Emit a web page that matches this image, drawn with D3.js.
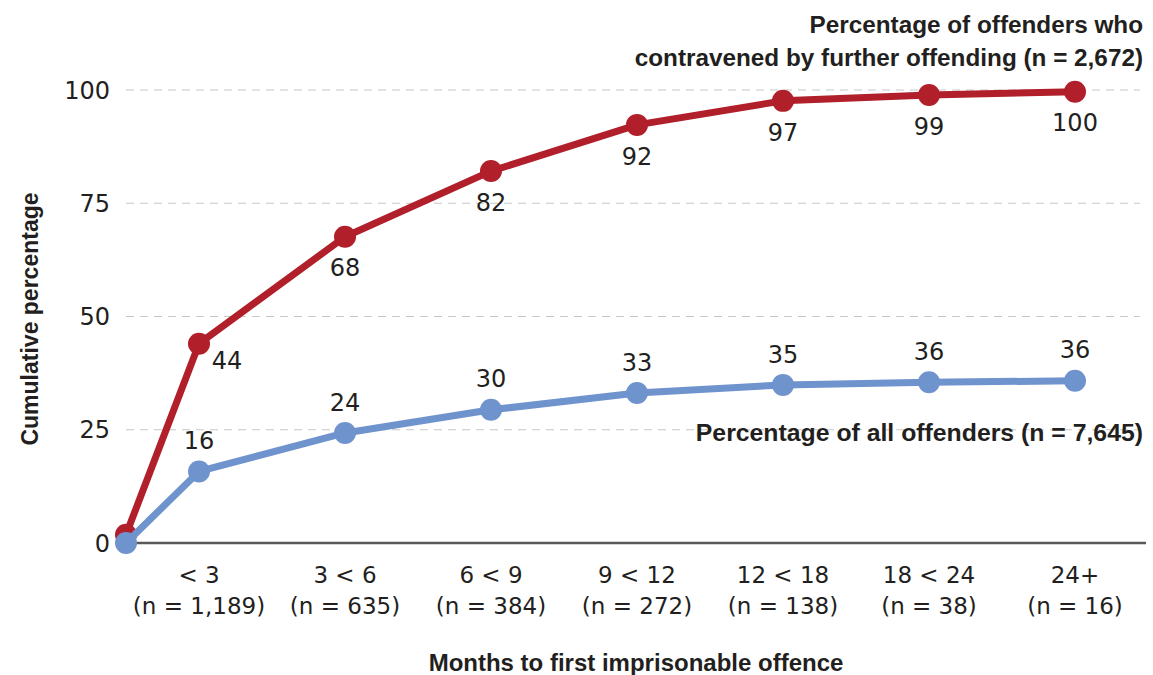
<!DOCTYPE html>
<html><head><meta charset="utf-8">
<script src="https://cdn.jsdelivr.net/npm/d3@7"></script>
<style>body{margin:0;background:#fff}svg{display:block}text{font-family:"DejaVu Sans",sans-serif;fill:#231f20}text.b{font-family:"Liberation Sans",Arial,sans-serif;font-weight:bold}</style>
</head><body><svg id="c" width="1153" height="675"></svg>
<script>
const categories = ["< 3","3 < 6","6 < 9","9 < 12","12 < 18","18 < 24","24+"];
const counts = ["(n = 1,189)","(n = 635)","(n = 384)","(n = 272)","(n = 138)","(n = 38)","(n = 16)"];
const startRed = 1.8, startBlue = 0;
const redValues = [44, 67.6, 82.1, 92.3, 97.6, 98.9, 99.6];
const redLabels = ["44","68","82","92","97","99","100"];
const blueValues = [15.8, 24.3, 29.4, 33.1, 34.9, 35.5, 35.8];
const blueLabels = ["16","24","30","33","35","36","36"];
const yTicks = [0,25,50,75,100];

const svg = d3.select("#c");
const x = d3.scaleBand().domain(categories).range([126,1148]).paddingInner(0).paddingOuter(0);
const y = d3.scaleLinear().domain([0,100]).range([543,90]);
const px = (i) => i < 0 ? x.range()[0] : x(categories[i]) + x.bandwidth()/2;

// gridlines
svg.append("g").selectAll("line").data(yTicks.filter(d=>d>0)).join("line")
  .attr("x1",126).attr("x2",1140).attr("y1",d=>y(d)).attr("y2",d=>y(d))
  .attr("stroke","#c8c8c8").attr("stroke-width",1.2).attr("stroke-dasharray","8,6");
// y tick labels
svg.append("g").selectAll("text").data(yTicks).join("text")
  .attr("x",110).attr("y",d=>y(d)).attr("dy","0.36em").attr("text-anchor","end")
  .attr("font-size",24).text(d=>d);
// baseline
svg.append("line").attr("x1",126).attr("x2",1146).attr("y1",y(0)).attr("y2",y(0))
  .attr("stroke","#58595b").attr("stroke-width",2.5);
// x labels
const xl = svg.append("g").selectAll("g").data(categories).join("g");
xl.append("text").attr("x",(d,i)=>px(i)).attr("y",583).attr("text-anchor","middle").attr("font-size",23).text(d=>d);
xl.append("text").attr("x",(d,i)=>px(i)).attr("y",614).attr("text-anchor","middle").attr("font-size",23).text((d,i)=>counts[i]);

// axis titles
svg.append("text").attr("class","b").attr("transform","translate(38,319) rotate(-90)").attr("text-anchor","middle")
  .attr("font-size",23).text("Cumulative percentage");
svg.append("text").attr("class","b").attr("x",636).attr("y",671).attr("text-anchor","middle")
  .attr("font-size",24).text("Months to first imprisonable offence");

function series(start, vals, color){
  const pts = [[px(-1), y(start)]].concat(vals.map((v,i)=>[px(i), y(v)]));
  svg.append("path").attr("d", d3.line()(pts)).attr("fill","none").attr("stroke",color)
    .attr("stroke-width",7).attr("stroke-linejoin","round");
  svg.append("g").selectAll("circle").data(pts).join("circle")
    .attr("cx",d=>d[0]).attr("cy",d=>d[1]).attr("r",11).attr("fill",color);
}
series(startRed, redValues, "#b01f2a");
series(startBlue, blueValues, "#6f93cd");

// data labels
svg.append("g").selectAll("text").data(redValues).join("text")
  .attr("x",(d,i)=> i===0 ? px(i)+28 : px(i)).attr("y",(d,i)=>y(d)+ (i===0?17:31)).attr("dy","0.36em")
  .attr("text-anchor","middle").attr("font-size",24).text((d,i)=>redLabels[i]);
svg.append("g").selectAll("text").data(blueValues).join("text")
  .attr("x",(d,i)=>px(i)).attr("y",d=>y(d)-31).attr("dy","0.36em")
  .attr("text-anchor","middle").attr("font-size",24).text((d,i)=>blueLabels[i]);

// series labels
svg.append("text").attr("class","b").attr("x",1143).attr("y",33).attr("text-anchor","end").attr("font-size",24.3)
  .text("Percentage of offenders who");
svg.append("text").attr("class","b").attr("x",1143).attr("y",66).attr("text-anchor","end").attr("font-size",24.3)
  .text("contravened by further offending (n = 2,672)");
svg.append("text").attr("class","b").attr("x",1143).attr("y",441).attr("text-anchor","end").attr("font-size",24.8)
  .text("Percentage of all offenders (n = 7,645)");
</script></body></html>
